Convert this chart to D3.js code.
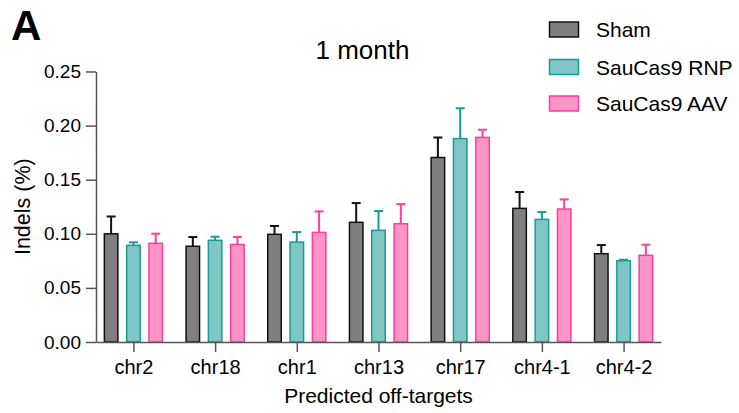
<!DOCTYPE html>
<html>
<head>
<meta charset="utf-8">
<script src="https://cdn.jsdelivr.net/npm/d3@7"></script>
<style>
  html, body { margin: 0; padding: 0; background: #fff; }
  svg { display: block; font-family: "Liberation Sans", Arial, Helvetica, sans-serif; }
</style>
</head>
<body>
<svg id="chart" width="739" height="413"></svg>
<script>
const categories = ["chr2", "chr18", "chr1", "chr13", "chr17", "chr4-1", "chr4-2"];
const seriesNames = ["Sham", "SauCas9 RNP", "SauCas9 AAV"];
const shamMean = [0.100, 0.0885, 0.0995, 0.1106, 0.1705, 0.1235, 0.0816];
const shamErr  = [0.0160, 0.0085, 0.0077, 0.0178, 0.0185, 0.0151, 0.0080];
const rnpMean  = [0.0893, 0.0940, 0.0924, 0.1032, 0.1880, 0.1133, 0.0751];
const rnpErr   = [0.0028, 0.0033, 0.0092, 0.0178, 0.0280, 0.0068, 0.0009];
const aavMean  = [0.0912, 0.0902, 0.1013, 0.1093, 0.1891, 0.1229, 0.0801];
const aavErr   = [0.0089, 0.0068, 0.0194, 0.0182, 0.0071, 0.0089, 0.0098];
const yTicks = [0, 0.05, 0.10, 0.15, 0.20, 0.25];
const fills   = ["#7f7f7f", "#80c6c4", "#ff95c6"];
const strokes = ["#111111", "#189c97", "#ff3d9c"];

const means = [shamMean, rnpMean, aavMean];
const errs = [shamErr, rnpErr, aavErr];

const svg = d3.select("#chart");
const x0 = d3.scalePoint().domain(categories).range([96, 661]).padding(0.458);
const x1 = d3.scaleBand().domain(seriesNames).range([-29.05, 29.05]).paddingInner(0.395).paddingOuter(0);
const y = d3.scaleLinear().domain([0, 0.25]).range([342, 71.5]);

const axisColor = "#555";

// bars
seriesNames.forEach((s, si) => {
  const g = svg.append("g");
  const data = categories.map((c, ci) => ({ c, v: means[si][ci], e: errs[si][ci] }));
  // error bars
  g.selectAll("line.eb").data(data).enter().append("line")
    .attr("x1", d => x0(d.c) + x1(s) + x1.bandwidth() / 2)
    .attr("x2", d => x0(d.c) + x1(s) + x1.bandwidth() / 2)
    .attr("y1", d => y(d.v)).attr("y2", d => y(d.v + d.e))
    .attr("stroke", strokes[si]).attr("stroke-width", 2);
  g.selectAll("line.cap").data(data).enter().append("line")
    .attr("x1", d => x0(d.c) + x1(s) + x1.bandwidth() / 2 - 4.5)
    .attr("x2", d => x0(d.c) + x1(s) + x1.bandwidth() / 2 + 4.5)
    .attr("y1", d => y(d.v + d.e)).attr("y2", d => y(d.v + d.e))
    .attr("stroke", strokes[si]).attr("stroke-width", 2);
  g.selectAll("rect").data(data).enter().append("rect")
    .attr("x", d => x0(d.c) + x1(s))
    .attr("width", x1.bandwidth())
    .attr("y", d => y(d.v))
    .attr("height", d => y(0) - y(d.v))
    .attr("fill", fills[si]).attr("stroke", strokes[si]).attr("stroke-width", 1.5);
});

// axes
const yAxis = svg.append("g").attr("transform", "translate(96,0)")
  .call(d3.axisLeft(y).tickValues(yTicks).tickFormat(d3.format(".2f")).tickSize(10).tickSizeOuter(0).tickPadding(5));
yAxis.selectAll("text").attr("font-size", 19).attr("fill", "#000").attr("font-family", null);
yAxis.selectAll("line").attr("stroke", axisColor).attr("stroke-width", 1.5);
yAxis.select(".domain").attr("stroke", axisColor).attr("stroke-width", 1.5);

const xAxis = svg.append("g").attr("transform", "translate(0,342)")
  .call(d3.axisBottom(x0).tickSize(10).tickSizeOuter(0).tickPadding(8));
xAxis.selectAll("text").attr("font-size", 20).attr("fill", "#000");
xAxis.selectAll("line").attr("stroke", axisColor).attr("stroke-width", 1.5);
xAxis.select(".domain").attr("stroke", axisColor).attr("stroke-width", 1.5);
svg.selectAll(".tick text").attr("font-family", null);
yAxis.attr("font-family", null); xAxis.attr("font-family", null);

// labels
svg.append("text").attr("x", 11).attr("y", 40).attr("font-size", 42).attr("font-weight", "bold").text("A");
svg.append("text").attr("x", 362.5).attr("y", 59).attr("text-anchor", "middle").attr("font-size", 26).text("1 month");
svg.append("text").attr("x", 378.5).attr("y", 403).attr("text-anchor", "middle").attr("font-size", 21).text("Predicted off-targets");
svg.append("text").attr("transform", "translate(29.5,206.7) rotate(-90)").attr("text-anchor", "middle").attr("font-size", 21.5).text("Indels (%)");

// legend
const legY = [22, 59.5, 96];
seriesNames.forEach((s, si) => {
  svg.append("rect").attr("x", 549.5).attr("y", legY[si]).attr("width", 29).attr("height", 15)
    .attr("fill", fills[si]).attr("stroke", strokes[si]).attr("stroke-width", 1.5);
  svg.append("text").attr("x", 596).attr("y", legY[si] + 15).attr("font-size", 21).text(s);
});
</script>
</body>
</html>
